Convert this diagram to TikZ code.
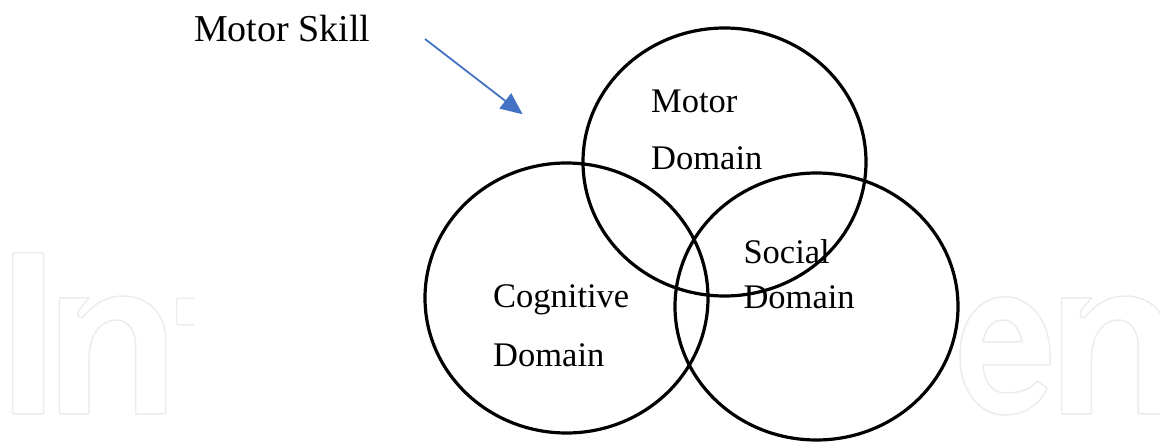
\documentclass[tikz,border=0pt]{standalone}
\usepackage{fontspec}
\setmainfont{Liberation Serif}
\usetikzlibrary{shapes.geometric,arrows.meta}
\definecolor{arrowblue}{HTML}{4472C4}
\definecolor{wmgray}{HTML}{ECECEC}
\tikzset{
  domainbox/.style={ellipse, draw=black, line width=3.2pt, inner sep=0pt,
                 minimum width=283pt},
  domaintext/.style={anchor=base west, inner sep=0pt, font=\fontsize{34.5}{36}\selectfont},
  headtext/.style={anchor=base west, inner sep=0pt, font=\fontsize{38}{40}\selectfont},
  pointer/.style={draw=arrowblue, line width=1.8pt,
                  -{Triangle[length=22pt,width=19pt]}},
  wm/.style={draw=wmgray, line width=1.5pt, line join=round}
}
\begin{document}
\begin{tikzpicture}[x=1pt,y=-1pt]
\useasboundingbox (0,0) rectangle (1160,443);

% faint publisher lettering in the background
\draw[wm, rounded corners=2pt] (12.7,252.7) rectangle (43.7,414);
\def\lettern{
  (59.3,414) -- (59.3,298) -- (89,298) -- (79,310)
  .. controls (76,314) and (79,320) .. (83,317)
  .. controls (94,303) and (108,296) .. (123,296)
  .. controls (148,296) and (165.7,314) .. (165.7,340)
  -- (165.7,414) -- (135.7,414) -- (135.7,345)
  .. controls (135.7,330) and (127,320) .. (116.7,320)
  .. controls (100,320) and (89,335) .. (89,360)
  -- (89,414) -- cycle}
\draw[wm] \lettern;
\draw[wm, rounded corners=2pt] (194,298.3) -- (176.7,298.3) -- (176.7,325) -- (194,325);
\draw[wm, shift={(1002.4,0)}] \lettern;
\draw[wm] (1050,365) -- (1050,354)
  .. controls (1050,321) and (1030,296.7) .. (1005,296.7)
  .. controls (978,296.7) and (960,322) .. (960,356)
  .. controls (960,392) and (980,415) .. (1005,415)
  .. controls (1024,415) and (1040,405) .. (1047,388)
  -- (1037,381)
  .. controls (1032,389) and (1020,393) .. (1005,393)
  .. controls (992,393) and (984,382) .. (983,365) -- cycle;
\draw[wm] (983,342) -- (1022,342)
  .. controls (1020,328) and (1012,320) .. (1003,320)
  .. controls (993,320) and (985,328) .. (983,342) -- cycle;

% the three domains
\node[domainbox, minimum height=268pt] (motor) at (724.5,162) {};
\node[domainbox, minimum height=270pt] (cog)   at (566.5,298) {};
\node[domainbox, minimum height=267pt] (soc)   at (816.5,306.5) {};

% domain names
\node[domaintext] (motorA) at (651,112.7) {Motor};
\node[domaintext] (motorB) at (651,170) {Domain};
\node[domaintext] (cogA) at (493,308) {Cognitive};
\node[domaintext] (cogB) at (493,366.7) {Domain};
\node[domaintext] (socA) at (743.3,263.3) {Social};
\node[domaintext] (socB) at (743.3,308.3) {Domain};

% heading with its pointer
\node[headtext] (skill) at (194,42) {Motor Skill};
\coordinate (ptrStart) at (425,39);
\coordinate (ptrEnd) at (522.7,114.3);
\draw[pointer] (ptrStart) -- (ptrEnd);
\end{tikzpicture}
\end{document}
